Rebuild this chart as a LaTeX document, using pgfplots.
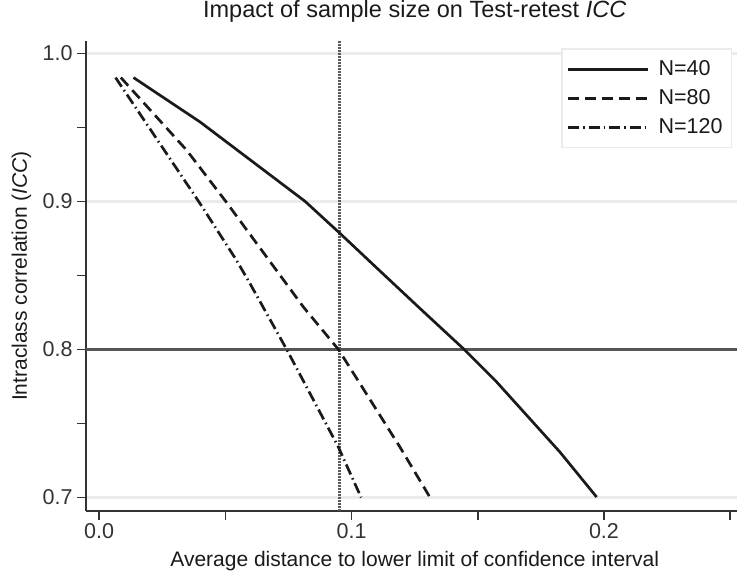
\documentclass[border=0pt]{standalone}
\usepackage{pgfplots}
\pgfplotsset{compat=1.18}
\usepackage{fontspec}
\setmainfont{Liberation Sans}
\definecolor{txt}{HTML}{1A1A1A}
\definecolor{ticktxt}{HTML}{333333}
\definecolor{axcol}{HTML}{333333}
\definecolor{gridc}{HTML}{EBEBEB}
\definecolor{hcol}{HTML}{555555}
\definecolor{vcol}{HTML}{5A5A5A}
\definecolor{linec}{HTML}{1A1A1A}
\begin{document}
\begin{tikzpicture}
\begin{axis}[
  at={(86pt,66pt)}, anchor=south west,
  scale only axis, width=651pt, height=470pt,
  xmin=-0.0052, xmax=0.2527, ymin=0.6909, ymax=1.0083,
  axis x line*=bottom, axis y line*=left,
  axis line style={-, axcol, line width=1.5pt},
  xtick={0,0.1,0.2}, minor xtick={0.05,0.15,0.25},
  ytick={0.7,0.8,0.9,1.0}, minor ytick={0.75,0.85,0.95},
  tick align=outside, major tick length=9pt, minor tick length=9pt,
  tick style={axcol, line width=1.5pt},
  ymajorgrids, major grid style={gridc, line width=2.6pt},
  /pgf/number format/.cd, fixed, fixed zerofill, precision=1, assume math mode=true,
  /pgfplots/.cd,
  every tick label/.append style={font=\fontsize{21.5}{25}\selectfont, text=ticktxt},
  yticklabel style={xshift=-1pt},
  title={Impact of sample size on Test-retest \textit{ICC}},
  title style={at={([yshift=17pt]axis description cs:0.505,1)}, anchor=base, font=\fontsize{23.5}{28}\selectfont, text=txt},
  xlabel={Average distance to lower limit of confidence interval},
  xlabel style={at={([yshift=-56pt]axis description cs:0.505,0)}, anchor=base, font=\fontsize{21}{25}\selectfont, text=txt},
  ylabel={Intraclass correlation (\textit{ICC})},
  ylabel style={at={([xshift=-59pt]axis description cs:0,0.5)}, anchor=base, rotate=0, font=\fontsize{21}{25}\selectfont, text=txt},
  legend cell align=left,
  legend image code/.code={\draw[#1] (0pt,0pt) -- (80pt,0pt);},
  legend style={at={(0.7296,0.985)}, anchor=north west, draw=gridc, line width=1.8pt, fill=white,
    font=\fontsize{21.5}{25}\selectfont, text=txt, inner xsep=5pt, inner ysep=8pt,
    nodes={inner sep=4pt}, row sep=4.5pt, column sep=5pt},
]
\addplot[forget plot, vcol, line width=2.3pt, dash pattern=on 1.5pt off 1.5pt] coordinates {(0.0952,0.6909) (0.0952,1.0083)};
\addplot[forget plot, hcol, line width=2.8pt] coordinates {(-0.0052,0.8) (0.2527,0.8)};
\addplot[linec, line width=2.7pt] coordinates {
(0.0136,0.9836) (0.0400,0.9536) (0.0816,0.9000) (0.0954,0.8784) (0.1100,0.8550) (0.1271,0.8277) (0.1450,0.7994) (0.1575,0.7780) (0.1826,0.7306) (0.1971,0.7003)};
\addlegendentry{N=40}
\addplot[linec, line width=2.7pt, dash pattern=on 11pt off 6pt] coordinates {
(0.0086,0.9836) (0.0347,0.9345) (0.0506,0.8990) (0.0809,0.8287) (0.0948,0.8000) (0.1192,0.7340) (0.1311,0.7000)};
\addlegendentry{N=80}
\addplot[linec, line width=2.7pt, dash pattern=on 11pt off 4pt on 1.5pt off 4pt] coordinates {
(0.0065,0.9836) (0.0400,0.8985) (0.0545,0.8600) (0.0598,0.8444) (0.0743,0.8000) (0.0948,0.7340) (0.1038,0.7000)};
\addlegendentry{N=120}
\end{axis}
\pgfresetboundingbox
\useasboundingbox (0,0) rectangle (737pt,577pt);
\end{tikzpicture}
\end{document}
